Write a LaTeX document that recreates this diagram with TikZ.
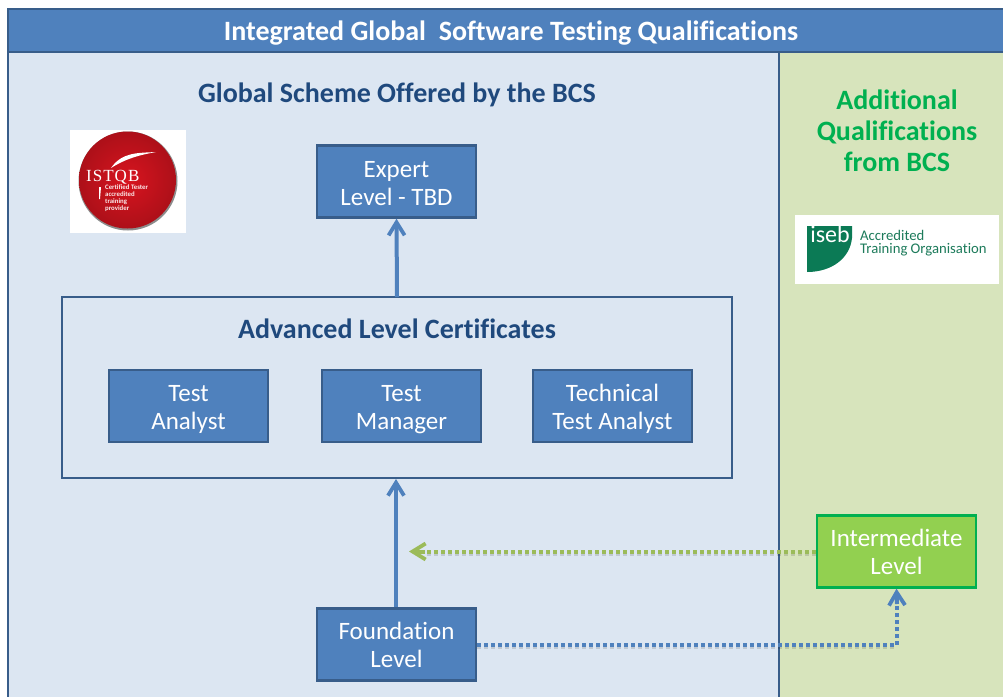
\documentclass[tikz,border=0pt]{standalone}
\usepackage{fontspec}
\setmainfont{Carlito}[Ligatures={NoCommon}]
\newfontfamily\logoserif{Liberation Serif}
\usetikzlibrary{arrows.meta}
\definecolor{hdr}{HTML}{4F81BD}
\definecolor{edge}{HTML}{385D8A}
\definecolor{pale}{HTML}{DCE6F2}
\definecolor{palegreen}{HTML}{D7E4BC}
\definecolor{navy}{HTML}{1F497D}
\definecolor{brightgreen}{HTML}{00B050}
\definecolor{limefill}{HTML}{92D050}
\definecolor{olive}{HTML}{9BBB59}
\definecolor{isebgreen}{HTML}{0B7A55}
\definecolor{logored}{HTML}{D8141F}
\newcommand{\lowerby}[1]{\rule{0pt}{#1}}
\tikzset{
  x=1pt,y=-1pt,
  bluebox/.style={draw=edge,line width=2.4pt,fill=hdr,text=white,align=center,font=\fontsize{25}{28}\selectfont,minimum width=159pt,minimum height=72pt,inner sep=0pt},
  greenbox/.style={bluebox,draw=brightgreen,fill=limefill},
  headtext/.style={inner sep=0pt,font=\fontsize{28}{31}\bfseries\selectfont},
  tip/.style={-{Straight Barb[length=13pt,width=16pt,line width=3.8pt]}},
  solidarrow/.style={draw=hdr,line width=4pt,tip},
  dotblue/.style={draw=hdr,line width=4pt,dash pattern=on 4pt off 3pt},
  dotgreen/.style={draw=olive,line width=4pt,dash pattern=on 4pt off 3pt},
  barbblue/.style={draw=hdr,line width=4pt,tip},
  barbgreen/.style={draw=olive,line width=4pt,tip},
  soft/.style={draw=black,draw opacity=.13,line width=4pt,dash pattern=on 4pt off 3pt},
}
\begin{document}
\begin{tikzpicture}
\useasboundingbox (0,0) rectangle (1003,697);
\fill[white] (0,0) rectangle (1003,697);
% panels
\fill[pale] (8,52) rectangle (779,697);
\fill[palegreen] (779,52) rectangle (1003,697);
\draw[edge,line width=2pt] (8,52) -- (8,697);
\draw[edge,line width=2.4pt] (779,52) -- (779,697);
% header
\draw[edge,line width=2.4pt,fill=hdr] (1004,9) -- (8,9) -- (8,52) -- (1004,52);
\node[headtext,text=white] (title) at (511,33) {Integrated Global\ \ Software Testing Qualifications};
\node[headtext,text=navy] (scheme) at (397,95) {Global Scheme Offered by the BCS};
\node[headtext,text=brightgreen,align=center] (additional) at (897,131) {Additional\\Qualifications\\from BCS};
% ISTQB logo
\fill[white] (70,130) rectangle (186,233);
\fill[black!45] (128,181) circle (49.5);
\shade[inner color=logored,outer color=logored!80!black] (127.5,180) circle (48.5);
\fill[white] (111,168) .. controls (122,152) and (138,153) .. (156,152) .. controls (140,155) and (127,158) .. (111,168) -- cycle;
\node[text=white,font=\logoserif\fontsize{17}{17}\selectfont,inner sep=0pt,anchor=west] (istqb) at (86,177) {\addfontfeature{LetterSpace=6}ISTQB};
\node[text=white!90!logored,font=\fontsize{6.8}{6.8}\bfseries\selectfont,inner sep=0pt,anchor=north west,align=left] (prov) at (105,185) {Certified Tester\\accredited\\training\\provider};
\fill[white] (99,187) -- (101,187) -- (100,199) -- (99,199) -- cycle;
% ISEB logo
\fill[white] (795,215) rectangle (999,284);
\fill[isebgreen] (807,226) -- (852,226) -- (852,238) .. controls (850,258) and (832,272) .. (807,272) -- cycle;
\node[text=white,font=\fontsize{24}{24}\selectfont,inner sep=0pt] (isebword) at (830,234) {iseb};
\node[text=isebgreen!85!gray,font=\fontsize{14.7}{13}\selectfont,inner sep=0pt,anchor=west,align=left] (acc) at (860,243) {Accredited\\Training Organisation};
% boxes
\node[bluebox] (expert) at (396.5,181.5) {\lowerby{20pt}Expert\\Level - TBD};
\draw[edge,line width=2.4pt] (62,297) rectangle (732,478);
\coordinate (advtop) at (397,297);
\coordinate (advbot) at (396,479);
\node[headtext,text=navy] (advtitle) at (397,329) {Advanced Level Certificates};
\node[bluebox] (analyst) at (188.5,406) {\lowerby{23pt}Test\\Analyst};
\node[bluebox] (manager) at (401.5,406) {\lowerby{24pt}Test\\Manager};
\node[bluebox] (tech) at (612.5,406) {\lowerby{23pt}Technical\\Test Analyst};
\node[bluebox] (found) at (396.5,644.5) {\lowerby{19pt}Foundation\\Level};
\node[greenbox] (inter) at (896.5,551.5) {\lowerby{19pt}Intermediate\\Level};
\coordinate (jointgreen) at (409,551.5);
\coordinate (corner) at (897,645);
% connectors
\draw[solidarrow] (advtop) -- (expert.south);
\draw[solidarrow] (found.north -| advbot) -- (advbot);
\draw[soft] ([yshift=-2pt]inter.west |- jointgreen) -- ([xshift=16pt,yshift=-2pt]jointgreen);
\draw[dotgreen] (inter.west |- jointgreen) -- ([xshift=16pt]jointgreen);
\draw[barbgreen] ([xshift=16pt]jointgreen) -- (jointgreen);
\draw[soft] ([yshift=-2pt]found.east |- corner) -- ([yshift=-2pt]corner);
\draw[dotblue] (found.east |- corner) -- (corner) -- ([yshift=41pt]corner);
\draw[barbblue] ([yshift=41pt]corner) -- (inter.south);
\end{tikzpicture}
\end{document}
